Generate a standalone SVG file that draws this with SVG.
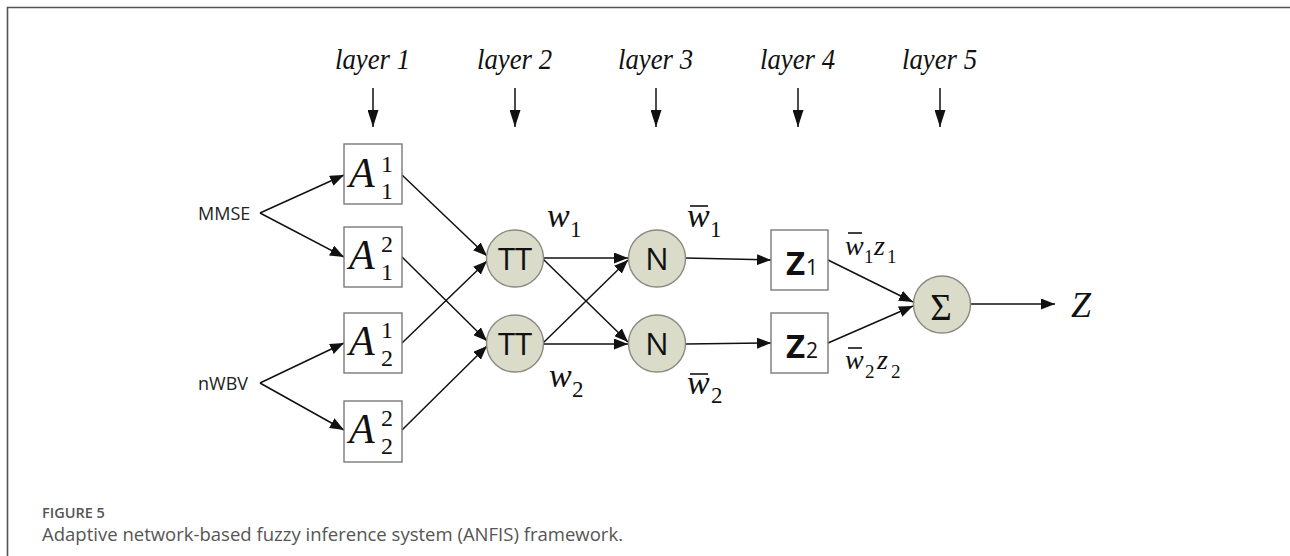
<svg xmlns="http://www.w3.org/2000/svg" width="1290" height="556" viewBox="0 0 1290 556">
  <style>
    .frame { fill: none; stroke: #555; stroke-width: 1.6; }
    .box { fill: #fff; stroke: #7a7a7a; stroke-width: 1.4; }
    .node { fill: #dadcc9; stroke: #8a8a80; stroke-width: 1.4; }
    .wire { fill: none; stroke: #111; stroke-width: 1.5; marker-end: url(#head); }
    .drop { fill: none; stroke: #111; stroke-width: 1.5; marker-end: url(#bighead); }
    .layer { font-family: "Liberation Serif", serif; font-style: italic; font-size: 30px; fill: #111; }
    .math { font-family: "Liberation Serif", serif; font-style: italic; fill: #111; }
    .digit { font-family: "Liberation Serif", serif; font-style: normal; fill: #111; }
    .inp { font-family: "Open Sans", sans-serif; font-size: 18px; fill: #222; }
    .op { font-family: "Open Sans", sans-serif; font-size: 31px; fill: #111; text-anchor: middle; }
    .zb { font-family: "Open Sans", sans-serif; font-weight: bold; font-size: 33px; fill: #111; }
    .zs { font-family: "Open Sans", sans-serif; font-size: 21px; fill: #111; }
    .bar { stroke: #111; stroke-width: 1.6; }
    .cap { font-family: "Open Sans", sans-serif; fill: #555; }
  </style>
  <defs>
    <marker id="head" markerUnits="userSpaceOnUse" markerWidth="15" markerHeight="11" refX="14" refY="5.5" orient="auto">
      <path d="M0,0 L14,5.5 L0,11 z" fill="#111"/>
    </marker>
    <marker id="bighead" markerUnits="userSpaceOnUse" markerWidth="18" markerHeight="11" refX="17" refY="5.5" orient="auto">
      <path d="M0,0 L17,5.5 L0,11 z" fill="#111"/>
    </marker>
  </defs>

  <rect width="1290" height="556" fill="#fff"/>
  <!-- figure frame: top and left rules -->
  <path class="frame" d="M7.5,556 L7.5,7.5 L1290,7.5"/>

  <!-- layer headings -->
  <g id="layer-labels">
    <text class="layer" x="335" y="69" textLength="75" lengthAdjust="spacingAndGlyphs">layer 1</text>
    <text class="layer" x="477" y="69" textLength="75" lengthAdjust="spacingAndGlyphs">layer 2</text>
    <text class="layer" x="618" y="69" textLength="75" lengthAdjust="spacingAndGlyphs">layer 3</text>
    <text class="layer" x="760" y="69" textLength="75" lengthAdjust="spacingAndGlyphs">layer 4</text>
    <text class="layer" x="902" y="69" textLength="75" lengthAdjust="spacingAndGlyphs">layer 5</text>
  </g>

  <!-- connectors -->
  <g id="connectors">
    <path class="drop" d="M373,88 L373,127"/>
    <path class="drop" d="M515,88 L515,127"/>
    <path class="drop" d="M656,88 L656,127"/>
    <path class="drop" d="M798,88 L798,127"/>
    <path class="drop" d="M940,88 L940,127"/>

    <path class="wire" d="M260,213 L344,175"/>
    <path class="wire" d="M260,213 L344,257"/>
    <path class="wire" d="M260,383 L344,343"/>
    <path class="wire" d="M260,383 L344,430"/>

    <path class="wire" d="M402,175 L487,256"/>
    <path class="wire" d="M402,257 L487,341"/>
    <path class="wire" d="M402,343 L487,261"/>
    <path class="wire" d="M402,430 L487,346"/>

    <path class="wire" d="M543,258 L628,258"/>
    <path class="wire" d="M543,259 L628,342"/>
    <path class="wire" d="M543,343 L628,260"/>
    <path class="wire" d="M543,344 L628,344"/>

    <path class="wire" d="M686,258 L771,260"/>
    <path class="wire" d="M686,344 L771,343"/>

    <path class="wire" d="M828,260 L913,302"/>
    <path class="wire" d="M828,343 L913,306"/>

    <path class="wire" d="M971,304 L1055,304"/>
  </g>

  <!-- inputs -->
  <g id="input-mmse"><text class="inp" x="198" y="220">MMSE</text></g>
  <g id="input-nwbv"><text class="inp" x="198" y="390">nWBV</text></g>

  <!-- layer 1: membership functions -->
  <g id="mf-a11">
    <rect class="box" x="344" y="144" width="58" height="60"/>
    <text class="math" x="349" y="187" font-size="42">A</text>
    <text class="digit" x="381" y="172" font-size="24">1</text>
    <text class="digit" x="381" y="199" font-size="24">1</text>
  </g>
  <g id="mf-a12">
    <rect class="box" x="344" y="227" width="58" height="60"/>
    <text class="math" x="349" y="269" font-size="42">A</text>
    <text class="digit" x="381" y="252" font-size="24">2</text>
    <text class="digit" x="381" y="280" font-size="24">1</text>
  </g>
  <g id="mf-a21">
    <rect class="box" x="344" y="313" width="58" height="60"/>
    <text class="math" x="349" y="355" font-size="42">A</text>
    <text class="digit" x="381" y="338" font-size="24">1</text>
    <text class="digit" x="381" y="366" font-size="24">2</text>
  </g>
  <g id="mf-a22">
    <rect class="box" x="344" y="401" width="58" height="61"/>
    <text class="math" x="349" y="443" font-size="42">A</text>
    <text class="digit" x="381" y="426" font-size="24">2</text>
    <text class="digit" x="381" y="454" font-size="24">2</text>
  </g>

  <!-- layer 2: product nodes -->
  <g id="prod-1">
    <circle class="node" cx="515" cy="258.5" r="28.5"/>
    <text class="op" x="515" y="269.5">TT</text>
  </g>
  <g id="prod-2">
    <circle class="node" cx="515" cy="343.5" r="28.5"/>
    <text class="op" x="515" y="354.5">TT</text>
  </g>
  <g id="w-labels">
    <text class="math" x="547" y="227" font-size="34">w</text>
    <text class="digit" x="570" y="237" font-size="23">1</text>
    <text class="math" x="549" y="387" font-size="34">w</text>
    <text class="digit" x="572" y="397" font-size="23">2</text>
  </g>

  <!-- layer 3: normalisation nodes -->
  <g id="norm-1">
    <circle class="node" cx="657" cy="258.5" r="28.5"/>
    <text class="op" x="657" y="269.5">N</text>
  </g>
  <g id="norm-2">
    <circle class="node" cx="657" cy="343.5" r="28.5"/>
    <text class="op" x="657" y="354.5">N</text>
  </g>
  <g id="wbar-labels">
    <line class="bar" x1="690" y1="206" x2="708" y2="206"/>
    <text class="math" x="687" y="227" font-size="34">w</text>
    <text class="digit" x="710" y="237" font-size="23">1</text>
    <line class="bar" x1="690" y1="374" x2="708" y2="374"/>
    <text class="math" x="687" y="394" font-size="34">w</text>
    <text class="digit" x="711" y="403" font-size="23">2</text>
  </g>

  <!-- layer 4: rule consequents -->
  <g id="rule-z1">
    <rect class="box" x="771" y="230" width="57" height="60"/>
    <text class="zb" x="786" y="275">Z</text>
    <text class="zs" x="806" y="275">1</text>
  </g>
  <g id="rule-z2">
    <rect class="box" x="771" y="313" width="57" height="60"/>
    <text class="zb" x="786" y="358">Z</text>
    <text class="zs" x="806" y="358">2</text>
  </g>
  <g id="wz-labels">
    <line class="bar" x1="848" y1="233" x2="862" y2="233"/>
    <text class="math" x="845" y="255" font-size="28">w</text>
    <text class="digit" x="864" y="263" font-size="19">1</text>
    <text class="math" x="874" y="255" font-size="28">z</text>
    <text class="digit" x="887" y="263" font-size="19">1</text>
    <line class="bar" x1="848" y1="348" x2="862" y2="348"/>
    <text class="math" x="845" y="369" font-size="28">w</text>
    <text class="digit" x="865" y="378" font-size="19">2</text>
    <text class="math" x="877" y="369" font-size="28">z</text>
    <text class="digit" x="891" y="378" font-size="19">2</text>
  </g>

  <!-- layer 5: summation and output -->
  <g id="sum">
    <circle class="node" cx="942" cy="304.5" r="28.5"/>
    <text class="digit" x="941" y="320" font-size="37" text-anchor="middle">Σ</text>
  </g>
  <g id="output-z"><text class="math" x="1071" y="317" font-size="36">Z</text></g>

  <!-- caption -->
  <g id="caption">
    <text class="cap" x="42" y="518" font-size="14.5" font-weight="600">FIGURE 5</text>
    <text class="cap" x="42" y="541" font-size="18" textLength="581" lengthAdjust="spacingAndGlyphs">Adaptive network-based fuzzy inference system (ANFIS) framework.</text>
  </g>
</svg>
